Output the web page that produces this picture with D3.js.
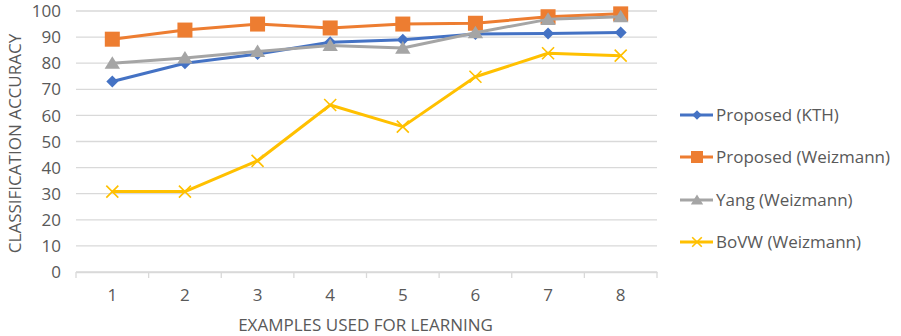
<!DOCTYPE html>
<html><head><meta charset="utf-8">
<script src="https://cdn.jsdelivr.net/npm/d3@7"></script>
<style>
body{margin:0;background:#fff;}
text{font-family:"Open Sans",sans-serif;fill:#595959;}
</style></head>
<body><svg id="c" width="901" height="336"></svg>
<script>
const categories = [1,2,3,4,5,6,7,8];
const yTicks = [0,10,20,30,40,50,60,70,80,90,100];
const seriesNames = ["Proposed (KTH)","Proposed (Weizmann)","Yang (Weizmann)","BoVW (Weizmann)"];
const kth = [73,80,83.5,88,89,91.2,91.4,91.8];
const proposedWeiz = [89.2,92.7,95,93.5,95,95.3,97.8,98.9];
const yangWeiz = [80,82,84.5,86.8,85.8,91.7,96.8,97.8];
const bovwWeiz = [30.8,30.8,42.6,64,55.7,74.8,83.8,82.9];
const colors = ["#4472C4","#ED7D31","#A5A5A5","#FFC000"];
const markers = ["diamond","square","triangle","x"];
const series = [kth, proposedWeiz, yangWeiz, bovwWeiz];

const FS = "17px";
const svg = d3.select("#c");
const L=76,R=657,T=11,B=272;
const x = d3.scaleBand().domain(categories).range([L,R]);
const y = d3.scaleLinear().domain([0,100]).range([B,T]);

// grid
svg.append("g").selectAll("line").data(yTicks).join("line")
  .attr("x1",L).attr("x2",R).attr("y1",d=>y(d)).attr("y2",d=>y(d))
  .attr("stroke","#d9d9d9").attr("stroke-width",1.3);

// y axis labels
svg.append("g").selectAll("text").data(yTicks).join("text")
  .attr("x",61).attr("y",d=>y(d)).attr("dy","0.36em").attr("text-anchor","end")
  .style("font-size",FS).text(d=>d);

// x axis
const xa = svg.append("g").attr("transform",`translate(0,${B})`)
  .call(d3.axisBottom(x).tickSize(0).tickPadding(17));
xa.select(".domain").attr("stroke","#d9d9d9").attr("stroke-width",1.3);
xa.selectAll("text").style("font-size",FS).style("font-family","Open Sans").attr("fill","#595959");
// category boundary ticks
const bounds = categories.map(c=>x(c)).concat([R]);
svg.append("g").selectAll("line").data(bounds).join("line")
  .attr("x1",d=>d).attr("x2",d=>d).attr("y1",B).attr("y2",B+6)
  .attr("stroke","#d9d9d9").attr("stroke-width",1.3);

// titles
svg.append("text").attr("x",(L+R)/2-1).attr("y",331).attr("text-anchor","middle")
  .style("font-size",FS).text("EXAMPLES USED FOR LEARNING");
svg.append("text").attr("transform",`translate(21,${(T+B)/2+2}) rotate(-90)`).attr("text-anchor","middle")
  .style("font-size",FS).text("CLASSIFICATION ACCURACY");

function drawMarker(g,type,color,cx,cy,s){
  if(type==="diamond"){
    g.append("path").attr("d",`M${cx},${cy-s}L${cx+s},${cy}L${cx},${cy+s}L${cx-s},${cy}Z`).attr("fill",color);
  } else if(type==="square"){
    g.append("rect").attr("x",cx-s).attr("y",cy-s).attr("width",2*s).attr("height",2*s).attr("fill",color);
  } else if(type==="triangle"){
    g.append("path").attr("d",`M${cx},${cy-s}L${cx+s*1.1},${cy+s*0.8}L${cx-s*1.1},${cy+s*0.8}Z`).attr("fill",color);
  } else {
    g.append("path").attr("d",`M${cx-s},${cy-s}L${cx+s},${cy+s}M${cx-s},${cy+s}L${cx+s},${cy-s}`)
      .attr("stroke",color).attr("stroke-width",1.6).attr("fill","none");
  }
}
const msize=[6,7.5,7,6];
const cx = d=>x(d)+x.bandwidth()/2;
const line = d3.line().x((d,i)=>cx(categories[i])).y(d=>y(d));
series.forEach((s,k)=>{
  const g = svg.append("g");
  g.append("path").attr("d",line(s)).attr("fill","none").attr("stroke",colors[k]).attr("stroke-width",3).attr("stroke-linejoin","round");
  s.forEach((v,i)=>drawMarker(g,markers[k],colors[k],cx(categories[i]),y(v),msize[k]));
});

// legend
const legY=[115,157,200,242];
seriesNames.forEach((n,k)=>{
  const g=svg.append("g");
  g.append("line").attr("x1",680).attr("x2",713).attr("y1",legY[k]).attr("y2",legY[k]).attr("stroke",colors[k]).attr("stroke-width",3);
  drawMarker(g,markers[k],colors[k],697,legY[k],msize[k]*0.8);
  g.append("text").attr("x",716).attr("y",legY[k]).attr("dy","0.36em").style("font-size",FS).text(n);
});
</script></body></html>
